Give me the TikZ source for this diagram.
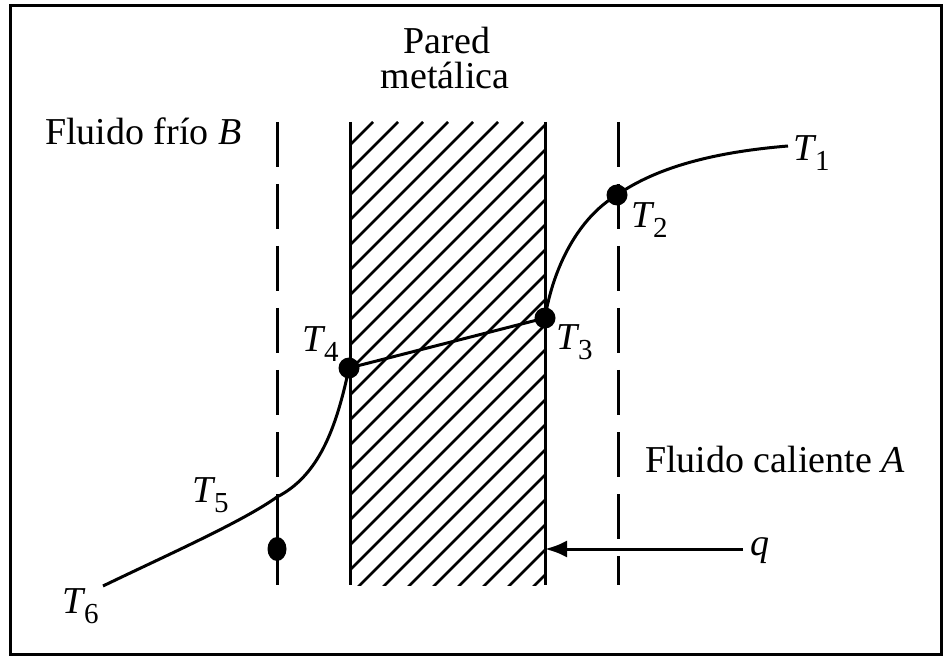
\documentclass[tikz,border=0pt]{standalone}
\usepackage{fontspec}
\setmainfont{Liberation Serif}
\usetikzlibrary{arrows.meta,shapes.geometric}
\newcommand{\Tlab}[1]{\textit{T}\kern-0.04em\raisebox{-10pt}{\fontsize{29}{29}\selectfont #1}}
\tikzset{
  lbl/.style={anchor=base west, inner sep=0pt},
  clbl/.style={anchor=base, inner sep=0pt},
  wallline/.style={line width=3pt},
  hatchline/.style={line width=2.5pt},
  guide/.style={line width=3pt, dash pattern=on 45pt off 17pt},
  curve/.style={line width=3pt},
  dot/.style={circle, fill=black, inner sep=0pt, minimum size=21pt},
  odot/.style={ellipse, fill=black, inner sep=0pt, minimum width=19pt, minimum height=24pt},
  qarrow/.style={line width=3pt, -{Latex[length=22pt,width=17pt]}}
}
\begin{document}
\begin{tikzpicture}[x=1pt,y=-1pt, font=\fontsize{38}{42}\selectfont]
\useasboundingbox (0,0) rectangle (951,660);
\fill[white] (0,0) rectangle (951,660);
% frame
\draw[line width=3pt] (10,6) rectangle (941,654);
% hatching of the wall
\begin{scope}
  \clip (350,122) rectangle (545,585);
  \foreach \k in {-2,...,27}
    \draw[hatchline] ({373+25*\k},122) -- ({373+25*\k-520},642);
\end{scope}
% wall faces
\coordinate (wlt) at (350,122);
\coordinate (wlb) at (350,585);
\coordinate (wrt) at (545,122);
\coordinate (wrb) at (545,585);
\draw[wallline] (wlt) -- (wlb);
\draw[wallline] (wrt) -- (wrb);
% film boundaries (dashed)
\coordinate (blt) at (277,122);
\coordinate (blb) at (277,585);
\coordinate (art) at (618,122);
\coordinate (arb) at (618,585);
\draw[guide] (blt) -- (blb);
\draw[guide] (art) -- (arb);
% temperature points
\node[dot] (t2) at (617,195) {};
\node[dot] (t3) at (545,318) {};
\node[dot] (t4) at (349,368) {};
\node[odot] (t5dot) at (277,549) {};
\coordinate (t1) at (788,146);
\coordinate (t5) at (277,497);
\coordinate (t6) at (103,586);
% temperature profile
\draw[curve] (t3.center) .. controls (553,268) and (578,218) .. (t2.center)
             .. controls (657,167) and (715,152) .. (t1);
\draw[curve] (t3.center) -- (t4.center);
\draw[curve] (t4.center) .. controls (336,430) and (318,476) .. (t5)
             .. controls (242,522) and (165,556) .. (t6);
% heat flux arrow
\coordinate (qs) at (743,549);
\coordinate (qe) at (545,549);
\draw[qarrow] (qs) -- (qe);
% labels
\node[clbl] (pared) at (447,54) {Pared};
\node[clbl] (metal) at (445,89) {metálica};
\node[lbl] (fb) at (45,145) {Fluido frío \textit{B}};
\node[lbl] (fa) at (645,472) {Fluido caliente \textit{A}};
\node[lbl] (l1) at (793,161) {\Tlab{1}};
\node[lbl] (l2) at (631,228) {\Tlab{2}};
\node[lbl] (l3) at (556,350) {\Tlab{3}};
\node[lbl] (l4) at (302,352) {\Tlab{4}};
\node[lbl] (l5) at (192,502) {\Tlab{5}};
\node[lbl] (l6) at (62,613) {\Tlab{6}};
\node[lbl] (lq) at (750,555) {\textit{q}};
\end{tikzpicture}
\end{document}
